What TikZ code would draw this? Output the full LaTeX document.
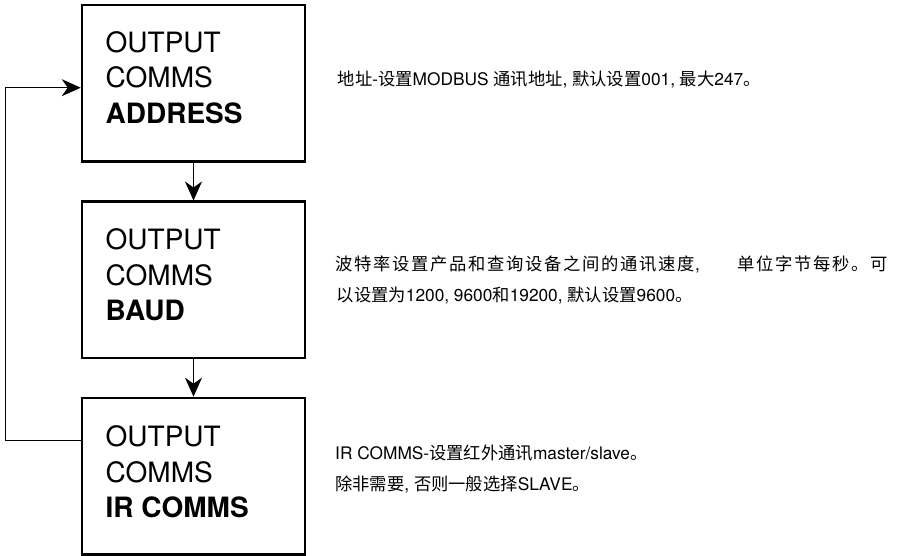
\documentclass[tikz,border=0pt]{standalone}
\usepackage{fontspec}
\setmainfont{TeX Gyre Heros}
\newfontfamily\cjk{Noto Sans CJK SC}
\newfontfamily\cjkwide[LetterSpace=10]{Noto Sans CJK SC}
\newcommand\zh[1]{{\cjk #1}}
\newcommand\zhw[1]{{\cjkwide #1}}
\usetikzlibrary{arrows.meta}
\begin{document}
\begin{tikzpicture}[x=1pt,y=-1pt,
  stepbox/.style={draw, line width=2.5pt, minimum width=223pt, minimum height=156.5pt, inner sep=0pt},
  boxtext/.style={anchor=base west, inner sep=0pt, align=left, font=\fontsize{28}{35.5}\selectfont},
  desc/.style={anchor=base west, inner sep=0pt, font=\fontsize{17.3}{20}\selectfont},
  conn/.style={line width=1pt, -{Stealth[length=19pt,width=17pt,inset=6pt]}}]
\useasboundingbox (0,0) rectangle (898,556);
\node[stepbox] (b1) at (193.5,83.5) {};
\node[stepbox] (b2) at (193.5,280) {};
\node[stepbox] (b3) at (193.5,476.2) {};
\node[boxtext] (t1) at (105.5,123.3) {OUTPUT\\COMMS\\\textbf{ADDRESS}};
\node[boxtext] (t2) at (105.5,321) {OUTPUT\\COMMS\\\textbf{BAUD}};
\node[boxtext] (t3) at (105.5,517.7) {OUTPUT\\COMMS\\\textbf{IR COMMS}};
\draw[conn] (b1.south) -- (b2.north);
\draw[conn] (b2.south) -- (b3.north);
\coordinate (c1) at (5,440.7);
\coordinate (c2) at (5,87.7);
\draw[conn] (b3.west |- c1) -- (c1) -- (c2) -- (b1.west |- c2);
\node[desc] (d1) at (337.5,86) {\zh{地址}-\zh{设置}MODBUS \zh{通讯地址}, \zh{默认设置}001, \zh{最大}247\zh{。}};
\node[desc] (d2) at (335,270.5) {\makebox[553pt][s]{\zhw{波特率设置产品和查询设备之间的通讯速度}, \hfill\zhw{单位字节每秒。可}}};
\node[desc] (d3) at (336.5,301.8) {\zh{以设置为}1200, 9600\zh{和}19200, \zh{默认设置}9600\zh{。}};
\node[desc] (d4) at (335,459) {IR COMMS-\zh{设置红外通讯}master/slave\zh{。}};
\node[desc] (d5) at (335,490.5) {\zh{除非需要}, \zh{否则一般选择}SLAVE\zh{。}};
\end{tikzpicture}
\end{document}
